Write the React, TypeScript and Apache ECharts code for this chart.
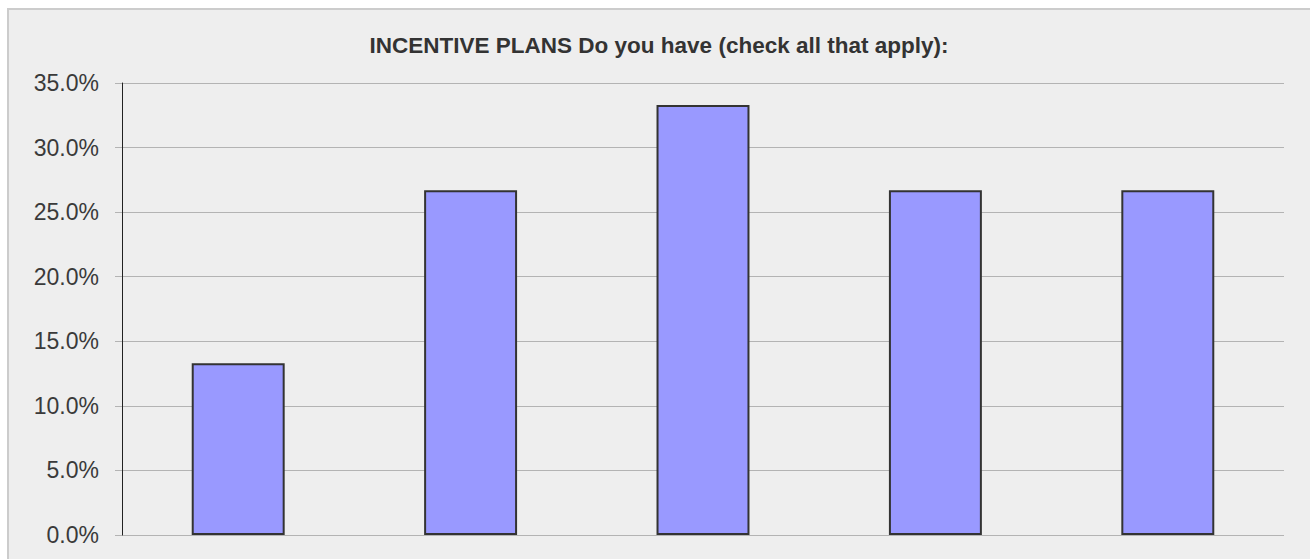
import React, { useEffect, useRef } from "react";
import * as echarts from "echarts";

const categories = ["Plan A", "Plan B", "Plan C", "Plan D", "Plan E"];
const values = [13.3, 26.7, 33.3, 26.7, 26.7];
const yTicks = { min: 0, max: 35, interval: 5 };
const titleText = "INCENTIVE PLANS Do you have (check all that apply):";

export default function App() {
  const ref = useRef<HTMLDivElement>(null);
  useEffect(() => {
    if (!ref.current) return;
    const chart = echarts.init(ref.current, undefined, { renderer: "svg" });
    chart.setOption({
      animation: false,
      backgroundColor: "#eeeeee",
      title: {
        text: titleText,
        left: "center",
        top: 19,
        textStyle: {
          fontFamily: "Liberation Sans",
          fontSize: 22.5,
          fontWeight: "bold",
          color: "#333333",
          lineHeight: 22,
        },
      },
      grid: { left: 113, top: 73, width: 1162, height: 452 },
      xAxis: {
        type: "category",
        data: categories,
        axisLine: { show: false },
        axisTick: { show: false },
        axisLabel: { show: false },
      },
      yAxis: {
        type: "value",
        min: yTicks.min,
        max: yTicks.max,
        interval: yTicks.interval,
        axisLine: { show: true, lineStyle: { color: "#222222", width: 1 } },
        axisTick: { show: true, length: 7, lineStyle: { color: "#b3b3b3" } },
        axisLabel: {
          margin: 23,
          fontFamily: "Liberation Sans",
          fontSize: 23,
          color: "#3a3a3a",
          formatter: (v: number) => v.toFixed(1) + "%",
        },
        splitLine: { show: true, lineStyle: { color: "#b3b3b3", width: 1 } },
      },
      series: [
        {
          type: "bar",
          data: values,
          barWidth: "40%",
          itemStyle: { color: "#9999ff", borderColor: "#333333", borderWidth: 2 },
        },
      ],
    });
    return () => chart.dispose();
  }, []);
  return (
    <div
      style={{
        position: "fixed",
        left: 7,
        top: 8,
        width: 1340,
        height: 620,
        background: "#eeeeee",
        borderLeft: "2px solid #cccccc",
        borderTop: "2px solid #cccccc",
        overflow: "hidden",
      }}
    >
      <div ref={ref} style={{ width: 1300, height: 590 }} />
    </div>
  );
}
